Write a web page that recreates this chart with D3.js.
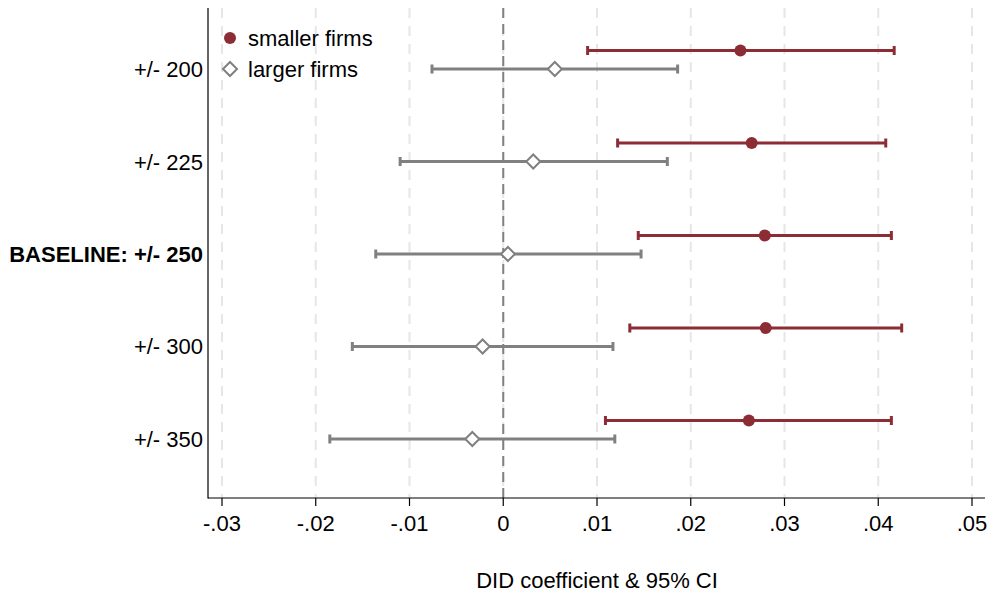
<!DOCTYPE html>
<html>
<head>
<meta charset="utf-8">
<script src="https://cdn.jsdelivr.net/npm/d3@7"></script>
<style>
  body { margin: 0; background: #fff; }
  svg { font-family: "Liberation Sans", Arial, Helvetica, sans-serif; }
</style>
</head>
<body>
<svg id="chart" width="992" height="597"></svg>
<script>
// Categories (top to bottom)
const categories = ['+/- 200', '+/- 225', 'BASELINE: +/- 250', '+/- 300', '+/- 350'];

// Smaller firms: point estimate and 95% CI
const smallCoef = [0.0253, 0.0265, 0.0279, 0.0280, 0.0262];
const smallLo   = [0.0090, 0.0122, 0.0144, 0.0135, 0.0109];
const smallHi   = [0.0417, 0.0408, 0.0414, 0.0425, 0.0414];

// Larger firms
const largeCoef = [0.0055, 0.0032, 0.0005, -0.0022, -0.0033];
const largeLo   = [-0.0076, -0.0110, -0.0136, -0.0161, -0.0185];
const largeHi   = [0.0186, 0.0175, 0.0147, 0.0117, 0.0119];

const xTicks = [-0.03, -0.02, -0.01, 0, 0.01, 0.02, 0.03, 0.04, 0.05];

const red = '#8c2d36';
const gray = '#808080';

const svg = d3.select('#chart');

const plotLeft = 208, plotRight = 985, plotTop = 8, plotBottom = 498;

const x = d3.scaleLinear().domain([-0.03, 0.05]).range([222, 972]);
const y = d3.scalePoint().domain(categories).range([10, plotBottom]).padding(0.638);
const offset = y.step() * 0.2;

// Vertical dashed gridlines
svg.append('g')
    .selectAll('line')
    .data(xTicks)
    .enter().append('line')
    .attr('x1', d => x(d)).attr('x2', d => x(d))
    .attr('y1', plotTop).attr('y2', plotBottom)
    .attr('stroke', '#e6e6e6')
    .attr('stroke-width', 2)
    .attr('stroke-dasharray', '10,8');

// Zero reference line
svg.append('line')
    .attr('x1', x(0)).attr('x2', x(0))
    .attr('y1', plotTop).attr('y2', plotBottom)
    .attr('stroke', gray)
    .attr('stroke-width', 2)
    .attr('stroke-dasharray', '10,6');

// Build series rows
const smallRows = categories.map((c, i) => ({ cat: c, coef: smallCoef[i], lo: smallLo[i], hi: smallHi[i], yy: y(c) - offset }));
const largeRows = categories.map((c, i) => ({ cat: c, coef: largeCoef[i], lo: largeLo[i], hi: largeHi[i], yy: y(c) }));

function drawCI(rows, color) {
    const g = svg.append('g');
    g.selectAll('line.ci')
        .data(rows).enter().append('line')
        .attr('class', 'ci')
        .attr('x1', d => x(d.lo)).attr('x2', d => x(d.hi))
        .attr('y1', d => d.yy).attr('y2', d => d.yy)
        .attr('stroke', color).attr('stroke-width', 3);
    ['lo', 'hi'].forEach(k => {
        g.selectAll('line.cap-' + k)
            .data(rows).enter().append('line')
            .attr('class', 'cap-' + k)
            .attr('x1', d => x(d[k])).attr('x2', d => x(d[k]))
            .attr('y1', d => d.yy - 4.5).attr('y2', d => d.yy + 4.5)
            .attr('stroke', color).attr('stroke-width', 3);
    });
    return g;
}

drawCI(largeRows, gray);
drawCI(smallRows, red);

const diamond = 'M0,-7L7,0L0,7L-7,0Z';

svg.append('g').selectAll('path')
    .data(largeRows).enter().append('path')
    .attr('d', diamond)
    .attr('transform', d => `translate(${x(d.coef)},${d.yy})`)
    .attr('fill', '#fff')
    .attr('stroke', gray)
    .attr('stroke-width', 2);

svg.append('g').selectAll('circle')
    .data(smallRows).enter().append('circle')
    .attr('cx', d => x(d.coef))
    .attr('cy', d => d.yy)
    .attr('r', 6)
    .attr('fill', red);

// Axes lines
svg.append('line')
    .attr('x1', plotLeft).attr('x2', plotLeft)
    .attr('y1', plotTop).attr('y2', plotBottom + 0.5)
    .attr('stroke', '#000').attr('stroke-width', 1.2);
svg.append('line')
    .attr('x1', plotLeft).attr('x2', plotRight)
    .attr('y1', plotBottom).attr('y2', plotBottom)
    .attr('stroke', '#000').attr('stroke-width', 1.2);

// X ticks and labels (Stata style: -.03, 0, .05)
const fmt = d => d === 0 ? '0' : d3.format('.2f')(d).replace('\u2212', '-').replace('0.', '.');
const xt = svg.append('g');
xt.selectAll('line')
    .data(xTicks).enter().append('line')
    .attr('x1', d => x(d)).attr('x2', d => x(d))
    .attr('y1', plotBottom).attr('y2', plotBottom + 8)
    .attr('stroke', '#000').attr('stroke-width', 1.2);
xt.selectAll('text')
    .data(xTicks).enter().append('text')
    .attr('x', d => x(d))
    .attr('y', plotBottom + 33)
    .attr('text-anchor', 'middle')
    .style('font-size', '22px')
    .text(fmt);

// Y category labels
svg.append('g').selectAll('text')
    .data(categories).enter().append('text')
    .attr('x', plotLeft - 5)
    .attr('y', d => y(d) + 8)
    .attr('text-anchor', 'end')
    .style('font-size', '22px')
    .style('font-weight', d => d.startsWith('BASELINE') ? 'bold' : 'normal')
    .text(d => d);

// X axis title
svg.append('text')
    .attr('x', 597)
    .attr('y', 588)
    .attr('text-anchor', 'middle')
    .style('font-size', '22px')
    .text('DID coefficient & 95% CI');

// Legend
const legend = svg.append('g');
legend.append('circle').attr('cx', 230).attr('cy', 38).attr('r', 6).attr('fill', red);
legend.append('path').attr('d', diamond)
    .attr('transform', 'translate(230,69)')
    .attr('fill', '#fff').attr('stroke', gray).attr('stroke-width', 2);
legend.append('text').attr('x', 248).attr('y', 46).style('font-size', '22px').text('smaller firms');
legend.append('text').attr('x', 248).attr('y', 77).style('font-size', '22px').text('larger firms');
</script>
</body>
</html>
